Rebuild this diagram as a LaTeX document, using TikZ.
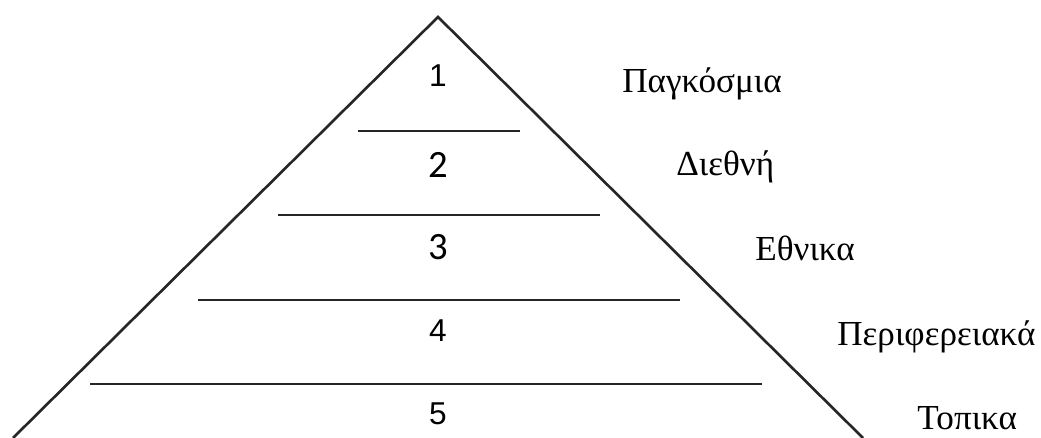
\documentclass[tikz,border=0pt]{standalone}
\usepackage{fontspec}
\setmainfont{Liberation Serif}
\newfontfamily\arialfont{Liberation Sans}
\newfontfamily\calibrifont{Carlito}
\usetikzlibrary{positioning}

\begin{document}
\begin{tikzpicture}[
  x=0.02cm, y=-0.02cm,
  edge/.style={draw=black!85, line width=1.5pt},
  numsans/.style={anchor=base, inner sep=0pt, font=\arialfont\fontsize{18}{21}\selectfont},
  numcal/.style={anchor=base, inner sep=0pt, font=\calibrifont\fontsize{22}{25}\selectfont},
  levellabel/.style={anchor=base west, inner sep=0pt, font=\fontsize{20}{23}\selectfont},
]
\useasboundingbox (0,0) rectangle (1041,438);

% Pyramid outline
\coordinate (apex) at (438,17);
\coordinate (bl) at (13,438);
\coordinate (br) at (863,438);
\draw[edge] (bl) -- (apex) -- (br);

% Level dividers
\foreach \y/\xl/\xr in {131/358/520, 215/278/600, 300/198/680, 384/90/762}{
  \draw[edge] (\xl,\y) -- (\xr,\y);
}

% Level numbers
\node[numsans] (n1) at (438,87) {1};
\node[numcal] (n2) at (438,178) {2};
\node[numcal] (n3) at (438,260) {3};
\node[numsans] (n4) at (438,342) {4};
\node[numsans] (n5) at (438,425) {5};

% Level names
\node[levellabel] (global) at (622,93) {Παγκόσμια};
\node[levellabel] (intl) at (676,176) {Διεθνή};
\node[levellabel] (natl) at (755,261) {Εθνικα};
\node[levellabel] (regl) at (837,346) {Περιφερειακά};
\node[levellabel] (local) at (917,430) {Τοπικα};
\end{tikzpicture}
\end{document}
